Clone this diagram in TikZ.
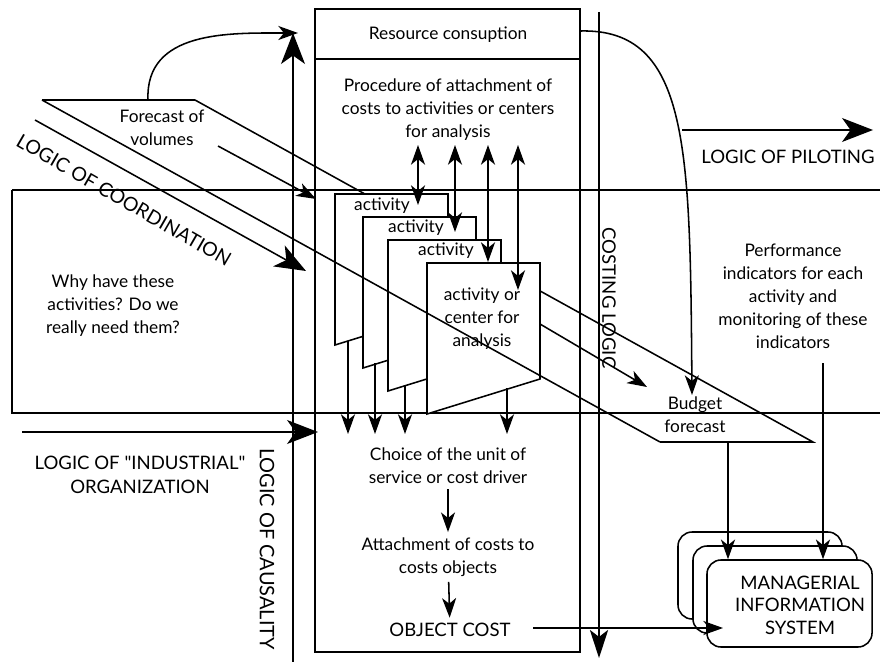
\documentclass[tikz,border=0pt]{standalone}
\usepackage{fontspec}
\setmainfont{Lato}
\usetikzlibrary{arrows.meta}

\begin{document}
\begin{tikzpicture}[x=0.025cm,y=-0.025cm,line width=1.1pt,
  every node/.style={font=\fontsize{12.3}{16.4}\selectfont,align=center},
  caps/.style={font=\fontsize{13.2}{16.4}\selectfont},
  bigarr/.style={-{Stealth[length=22pt,width=17pt,inset=6pt]}},
  arr/.style={-{Stealth[length=14pt,width=10pt,inset=4pt]}},
  dblarr/.style={{Stealth[length=14pt,width=10pt,inset=4pt]}-{Stealth[length=14pt,width=10pt,inset=4pt]}},
  actbox/.style={draw,fill=white},
  mis/.style={draw,fill=white,rounded corners=10pt}]
\useasboundingbox (0,0) rectangle (880,662);

% band of the activities
\draw (12,190) -- (880,190);
\draw (12,190) -- (12,413) -- (880,413);

% central column
\draw (315,9) rectangle (580,652);
\draw (315,59) -- (580,59);

% forecast -> budget parallelogram
\coordinate (p1) at (42,100);
\coordinate (p2) at (195,100);
\coordinate (p3) at (813,442);
\coordinate (p4) at (660,442);
\draw (p1) -- (p2) -- (p3) -- (p4);

% activities
\foreach \n/\x/\y in {1/335/194,2/363/217,3/388/240,4/427/263}
  \draw[actbox] (\x,\y) -- ++(113,0) -- ++(0,116) -- ++(-113,35) -- cycle;
\draw (p4) -- (p1);

\node (res) at (448,35) {Resource consuption};
\node (proc) at (448,110) {Procedure of attachment of\\costs to activities or centers\\for analysis};
\node (fore) at (162,128) {Forecast of\\volumes};
\node (why) at (113,306) {Why have these\\activities? Do we\\really need them?};
\node[font=\fontsize{13.2}{17}\selectfont] (ind) at (140,475) {LOGIC OF \textquotedbl INDUSTRIAL\textquotedbl\\ORGANIZATION};
\node[caps] (pil) at (788,157) {LOGIC OF PILOTING};
\node (perf) at (793,296) {Performance\\indicators for each\\activity and\\monitoring of these\\indicators};
\node (bud) at (695,415) {Budget\\forecast};
\node (act1) at (382,206) {activity};
\node (act2) at (416,228) {activity};
\node (act3) at (446,251) {activity};
\node (act4) at (482,319) {activity or\\center for\\analysis};
\node (choice) at (448,466) {Choice of the unit of\\service or cost driver};
\node (attach) at (448,557) {Attachment of costs to\\costs objects};
\node[caps] (obj) at (450,630) {OBJECT COST};
\node[rotate=-30,font=\fontsize{13.8}{16}\selectfont] (coord) at (124,200) {LOGIC OF COORDINATION};
\node[rotate=-90,caps] (costing) at (609,298) {COSTING LOGIC};
\node[rotate=-90,font=\fontsize{14.2}{16}\selectfont] (caus) at (267,549) {LOGIC OF CAUSALITY};

% managerial information system
\draw[mis] (678,532) rectangle (842,619);
\draw[mis] (693,546) rectangle (857,633);
\node[mis,minimum width=4.125cm,minimum height=2.175cm] (mis) at (789.5,603.5) {};
\node[font=\fontsize{13.2}{16}\selectfont] (mistext) at (800,605) {MANAGERIAL\\INFORMATION\\SYSTEM};

% logics
\coordinate (cb) at (293,662);
\coordinate (ct) at (293,33);
\draw[bigarr] (cb) -- (ct);
\coordinate (ia) at (22,432);
\coordinate (ib) at (318,432);
\draw[bigarr] (ia) -- (ib);
\coordinate (ca) at (35,120);
\coordinate (cc) at (306,271);
\draw[bigarr] (ca) -- (cc);
\coordinate (pa) at (682,130);
\coordinate (pb) at (873,130);
\draw[bigarr] (pa) -- (pb);
\coordinate (la) at (599,12);
\coordinate (lb) at (599,658);
\draw[-{Stealth[length=20pt,width=13pt,inset=5pt]}] (la) -- (lb);

% flows
\coordinate (ftop) at (148,100);
\draw[arr] (ftop) .. controls (145,30) and (230,33) .. (298,33);
\coordinate (va) at (218,146);
\coordinate (vb) at (316,199);
\draw[arr] (va) -- (vb);
\coordinate (rr) at (580,31);
\coordinate (bt) at (692,395);
\draw[arr] (rr) .. controls (690,28) and (690,150) .. (bt);
\coordinate (aa) at (540,324);
\coordinate (ab) at (647,387);
\draw[arr] (aa) -- (ab);

\foreach \i/\x/\y in {1/418/205,2/455/232,3/488/262,4/518/290}{
  \coordinate (up\i) at (\x,145);
  \coordinate (in\i) at (\x,\y);
  \draw[dblarr] (up\i) -- (in\i);
}
\foreach \i/\x/\y in {1/348/341,2/375/363,3/405/386,4/507/388}{
  \coordinate (out\i) at (\x,\y);
  \coordinate (ch\i) at (\x,434);
  \draw[arr] (out\i) -- (ch\i);
}

\draw[arr] (choice) -- (attach);
\draw[arr] (attach) -- (obj);
\coordinate (oc) at (533,628);
\coordinate (mi) at (723,628);
\draw[arr] (oc) -- (mi);
\coordinate (bf) at (728,442);
\draw[arr] (bf) -- (bf |- mis.north);
\coordinate (pf) at (823,363);
\draw[arr] (pf) -- (pf |- mis.north);
\end{tikzpicture}
\end{document}
